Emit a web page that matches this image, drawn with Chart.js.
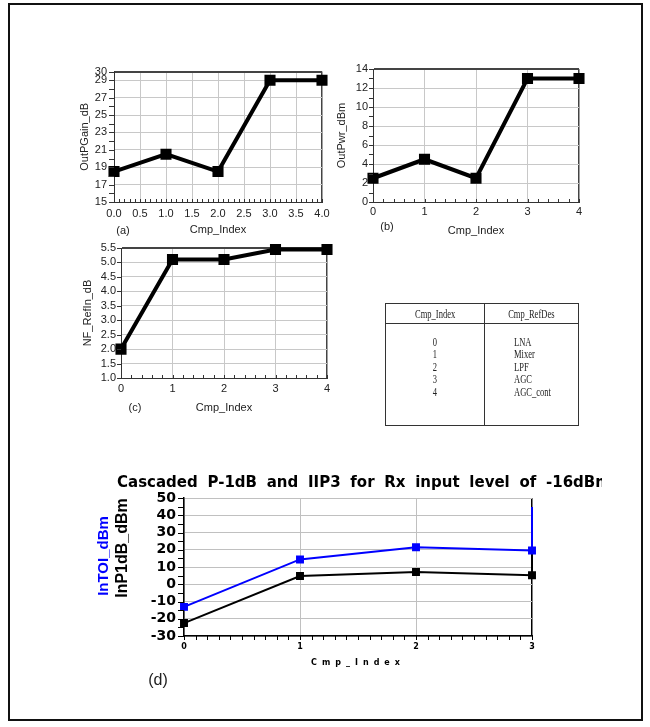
<!DOCTYPE html>
<html>
<head>
<meta charset="utf-8">
<script src="https://cdn.jsdelivr.net/npm/chart.js@4.4.1/dist/chart.umd.min.js"></script>
<style>
  body { margin: 0; background: #fff; width: 650px; height: 727px; position: relative; overflow: hidden;
         font-family: 'Liberation Sans', Arial, sans-serif; }
  .frame { position: absolute; left: 8px; top: 3px; width: 631px; height: 714px; border: 2px solid #111; }
  canvas { position: absolute; }
  .tag { position: absolute; color: #222; transform: translate(-50%, -50%); white-space: nowrap; }
  table.ref { position: absolute; left: 385px; top: 303px; width: 194px; height: 123px; border-collapse: collapse;
              border: 1.5px solid #333; font-family: 'Liberation Serif', 'Times New Roman', serif; font-size: 11.5px; color: #222; }
  table.ref th { height: 19px; font-weight: normal; border-bottom: 1.5px solid #333; padding: 0; }
  table.ref th:first-child, table.ref td:first-child { border-right: 1.5px solid #333; width: 98px; }
  table.ref td { vertical-align: top; padding: 12px 0 0 0; line-height: 12.4px; }
  table.ref td.idx { text-align: center; }
  table.ref td.des { text-align: left; padding-left: 29px; }
  .sq { display: inline-block; transform: scaleX(0.74); }
  td.des .sq { transform-origin: left; }
</style>
</head>
<body>
<div class="frame"></div>

<canvas id="chartGain" width="268" height="182" style="left:70px; top:58px;"></canvas>
<canvas id="chartPwr" width="262" height="184" style="left:332px; top:56px;"></canvas>
<canvas id="chartNf" width="268" height="184" style="left:72px; top:236px;"></canvas>
<canvas id="chartCascade" width="507" height="207" style="left:95px; top:468px;"></canvas>

<div class="tag" style="left:123px; top:230px; font-size:11px;">(a)</div>
<div class="tag" style="left:387px; top:226px; font-size:11px;">(b)</div>
<div class="tag" style="left:135px; top:407px; font-size:11px;">(c)</div>
<div class="tag" style="left:158px; top:680px; font-size:16px;">(d)</div>

<table class="ref" id="refTable">
  <thead><tr><th><span class="sq">Cmp_Index</span></th><th><span class="sq">Cmp_RefDes</span></th></tr></thead>
  <tbody><tr><td class="idx" id="refIdx"></td><td class="des" id="refDes"></td></tr></tbody>
</table>

<script>
// component chain
const cmpIndex = [0, 1, 2, 3, 4];
const cmpRefDes = ['LNA', 'Mixer', 'LPF', 'AGC', 'AGC_cont'];

// (a) output power gain, (b) output power, (c) noise figure referred to input
const outPGainDb = [18.5, 20.5, 18.5, 29, 29];
const outPwrDbm = [2.5, 4.5, 2.5, 13, 13];
const nfRefInDb = [2.0, 5.1, 5.1, 5.45, 5.45];

const gainXTicks = [0, 0.5, 1, 1.5, 2, 2.5, 3, 3.5, 4];
const gainYTicks = [15, 17, 19, 21, 23, 25, 27, 29, 30];
const pwrXTicks = [0, 1, 2, 3, 4];
const pwrYTicks = [0, 2, 4, 6, 8, 10, 12, 14];
const nfXTicks = [0, 1, 2, 3, 4];
const nfYTicks = [1.0, 1.5, 2.0, 2.5, 3.0, 3.5, 4.0, 4.5, 5.0, 5.5];

// (d) cascaded input P-1dB and input TOI; last entry is the trace leaving at index 3
const cascadeIndex = [0, 1, 2, 3, 3];
const inToiDbm = [-13.1, 14.4, 21.5, 19.6, 44.8];
const inP1dBDbm = [-22.5, 4.8, 7.1, 5.2, 19.5];
const cascadeXTicks = [0, 1, 2, 3];
const cascadeYTicks = [-30, -20, -10, 0, 10, 20, 30, 40, 50];

Chart.defaults.font.family = "'Liberation Sans', Arial, sans-serif";
Chart.defaults.color = '#222';

const GRID = '#c8c8c8';
const EDGE = '#444';

// small tick marks along the bottom and left axes
const axisTicks = {
  id: 'axisTicks',
  afterDraw(chart, args, opts) {
    const { ctx, chartArea, scales: { x, y } } = chart;
    ctx.save();
    ctx.strokeStyle = opts.color || '#333';
    ctx.lineWidth = 1;
    ctx.beginPath();
    const nx = Math.round((x.max - x.min) / opts.xStep);
    for (let i = 0; i <= nx; i++) {
      const px = Math.round(x.getPixelForValue(x.min + i * opts.xStep)) + 0.5;
      ctx.moveTo(px, chartArea.bottom);
      ctx.lineTo(px, chartArea.bottom + opts.xLen);
    }
    const ny = Math.round((y.max - y.min) / opts.yStep);
    for (let j = 0; j <= ny; j++) {
      const py = Math.round(y.getPixelForValue(y.min + j * opts.yStep)) + 0.5;
      ctx.moveTo(chartArea.left, py);
      ctx.lineTo(chartArea.left - opts.yLen, py);
    }
    ctx.stroke();
    ctx.restore();
  }
};

// loose text: titles that need spacing, rotation or colour per line
const freeText = {
  id: 'freeText',
  afterDraw(chart, args, opts) {
    const ctx = chart.ctx;
    (opts.items || []).forEach(t => {
      ctx.save();
      ctx.font = t.font;
      ctx.fillStyle = t.color;
      ctx.letterSpacing = t.spacing || '0px';
      ctx.wordSpacing = t.wordSpacing || '0px';
      ctx.textAlign = t.align || 'center';
      ctx.textBaseline = 'middle';
      ctx.translate(t.x, t.y);
      if (t.rotate) ctx.rotate(t.rotate);
      ctx.fillText(t.text, 0, 0);
      ctx.restore();
    });
  }
};

function toPoints(xs, ys) {
  return xs.map((x, i) => ({ x: x, y: ys[i] }));
}

function smallPanel(canvasId, o) {
  const xMax = o.xTicks[o.xTicks.length - 1];
  const yMax = o.yTicks[o.yTicks.length - 1];
  return new Chart(document.getElementById(canvasId), {
    type: 'line',
    data: {
      datasets: [{
        data: toPoints(cmpIndex, o.values),
        borderColor: '#000',
        backgroundColor: '#000',
        borderWidth: 4,
        pointStyle: 'rect',
        pointRadius: 5,
        pointHoverRadius: 5,
        tension: 0,
        clip: false
      }]
    },
    options: {
      responsive: false,
      animation: false,
      events: [],
      layout: { padding: { top: o.padTop, right: o.padRight, left: 0, bottom: 0 } },
      plugins: {
        legend: { display: false },
        tooltip: { enabled: false },
        axisTicks: { xStep: o.xMinor, xLen: -3, yStep: o.yMinor, yLen: o.yTickLen, color: '#333' }
      },
      scales: {
        x: {
          type: 'linear',
          min: o.xTicks[0],
          max: xMax,
          afterBuildTicks: s => { s.ticks = o.xTicks.map(v => ({ value: v })); },
          afterFit: s => { s.height = o.xHeight; },
          grid: {
            drawTicks: false,
            color: c => (c.tick && c.tick.value === xMax ? EDGE : GRID),
            lineWidth: c => (c.tick && c.tick.value === xMax ? 1.5 : 1)
          },
          border: { color: '#333', width: 1 },
          ticks: { autoSkip: false, maxRotation: 0, padding: o.xPad, font: { size: 11 }, callback: o.xFmt },
          title: { display: true, text: 'Cmp_Index', font: { size: 11 }, padding: { top: 0, bottom: o.xTitlePad } }
        },
        y: {
          type: 'linear',
          min: o.yTicks[0],
          max: yMax,
          afterBuildTicks: s => { s.ticks = o.yTicks.map(v => ({ value: v })); },
          afterFit: s => { s.width = o.yWidth; },
          grid: {
            drawTicks: false,
            color: c => (c.tick && c.tick.value === yMax ? EDGE : GRID),
            lineWidth: c => (c.tick && c.tick.value === yMax ? 2 : 1)
          },
          border: { color: '#333', width: 1 },
          ticks: { autoSkip: false, padding: o.yPad, font: { size: 11 }, callback: o.yFmt },
          title: { display: true, text: o.yTitle, font: { size: 11 }, padding: { top: o.yTitlePad, bottom: 0 } }
        }
      }
    },
    plugins: [axisTicks]
  });
}

smallPanel('chartGain', {
  values: outPGainDb, yTitle: 'OutPGain_dB',
  xTicks: gainXTicks, yTicks: gainYTicks,
  xFmt: v => Number(v).toFixed(1), yFmt: v => String(v),
  xMinor: 0.1, yMinor: 1, yTickLen: 5,
  padTop: 12, padRight: 16, yWidth: 44, xHeight: 38,
  xPad: 5, yPad: 7, yTitlePad: 8.4, xTitlePad: 3.4
});

smallPanel('chartPwr', {
  values: outPwrDbm, yTitle: 'OutPwr_dBm',
  xTicks: pwrXTicks, yTicks: pwrYTicks,
  xFmt: v => String(v), yFmt: v => String(v),
  xMinor: 0.2, yMinor: 1, yTickLen: 4,
  padTop: 13, padRight: 15, yWidth: 41, xHeight: 38,
  xPad: 3, yPad: 5, yTitlePad: 3.4, xTitlePad: 2.4
});

smallPanel('chartNf', {
  values: nfRefInDb, yTitle: 'NF_RefIn_dB',
  xTicks: nfXTicks, yTicks: nfYTicks,
  xFmt: v => String(v), yFmt: v => Number(v).toFixed(1),
  xMinor: 0.2, yMinor: 0.5, yTickLen: 4,
  padTop: 12, padRight: 13, yWidth: 49, xHeight: 42,
  xPad: 4, yPad: 5, yTitlePad: 9.4, xTitlePad: 5.7
});

new Chart(document.getElementById('chartCascade'), {
  type: 'line',
  data: {
    datasets: [
      {
        label: 'InTOI_dBm',
        data: toPoints(cascadeIndex, inToiDbm),
        borderColor: '#0000ff',
        backgroundColor: '#0000ff',
        borderWidth: 2,
        pointStyle: 'rect',
        pointRadius: c => (c.dataIndex < 4 ? 4.2 : 0),
        tension: 0,
        clip: false
      },
      {
        label: 'InP1dB_dBm',
        data: toPoints(cascadeIndex, inP1dBDbm),
        borderColor: '#000',
        backgroundColor: '#000',
        borderWidth: 2,
        pointStyle: 'rect',
        pointRadius: c => (c.dataIndex < 4 ? 4.2 : 0),
        tension: 0,
        clip: false
      }
    ]
  },
  options: {
    responsive: false,
    animation: false,
    events: [],
    layout: { padding: { top: 30, right: 70, left: 0, bottom: 0 } },
    plugins: {
      legend: { display: false },
      tooltip: { enabled: false },
      axisTicks: { xStep: 0.1, xLen: 4, yStep: 5, yLen: 6, color: '#000' },
      freeText: {
        items: [
          { text: 'Cascaded P-1dB and IIP3 for Rx input level of -16dBm', x: 22, y: 15, align: 'left',
            font: "bold 15px 'DejaVu Sans'", color: '#000', spacing: '0px', wordSpacing: '4.5px' },
          { text: 'InTOI_dBm', x: 9, y: 88, rotate: -Math.PI / 2,
            font: "bold 15px 'Liberation Sans'", color: '#0000ff' },
          { text: 'InP1dB_dBm', x: 28, y: 80, rotate: -Math.PI / 2,
            font: "bold 16px 'Liberation Sans'", color: '#000' },
          { text: 'Cmp_Index', x: 263, y: 195, font: "bold 8px 'DejaVu Sans'", color: '#000', spacing: '5px' }
        ]
      }
    },
    scales: {
      x: {
        type: 'linear',
        min: 0,
        max: 3,
        afterBuildTicks: s => { s.ticks = cascadeXTicks.map(v => ({ value: v })); },
        afterFit: s => { s.height = 39; },
        grid: {
          drawTicks: false,
          color: c => (c.tick && c.tick.value === 3 ? '#000' : '#c0c0c0'),
          lineWidth: c => (c.tick && c.tick.value === 3 ? 1.5 : 1)
        },
        border: { color: '#000', width: 1.5 },
        ticks: { autoSkip: false, maxRotation: 0, padding: 6, color: '#000', font: { family: "'DejaVu Sans'", size: 8, weight: 'bold' } }
      },
      y: {
        type: 'linear',
        min: -30,
        max: 50,
        afterBuildTicks: s => { s.ticks = cascadeYTicks.map(v => ({ value: v })); },
        afterFit: s => { s.width = 89; },
        grid: { drawTicks: false, color: '#c0c0c0', lineWidth: 1 },
        border: { color: '#000', width: 1.5 },
        ticks: { autoSkip: false, padding: 8, color: '#000', font: { family: "'DejaVu Sans'", size: 14, weight: 'bold' } }
      }
    }
  },
  plugins: [axisTicks, freeText]
});

// component table
document.getElementById('refIdx').innerHTML = cmpIndex.map(v => `<div><span class="sq">${v}</span></div>`).join('');
document.getElementById('refDes').innerHTML = cmpRefDes.map(v => `<div><span class="sq">${v}</span></div>`).join('');
</script>
</body>
</html>
